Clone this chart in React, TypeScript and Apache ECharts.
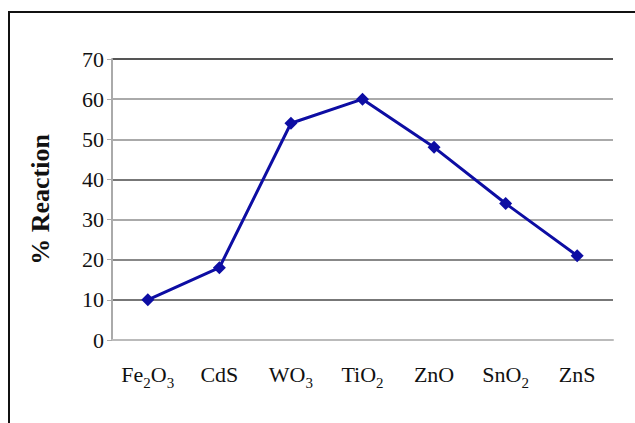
import React, { useEffect, useRef } from "react";
import * as echarts from "echarts";

const categories = ["Fe2O3", "CdS", "WO3", "TiO2", "ZnO", "SnO2", "ZnS"];
const reaction = [10, 18, 54, 60, 48, 34, 21];
const yTicks = { min: 0, max: 70, interval: 10 };
const gridColors = ["#bbbbbb", "#777777", "#888888", "#aaaaaa", "#777777", "#aaaaaa", "#aaaaaa", "#555555"];

const SERIF = "Liberation Serif";

function toRich(name: string): string {
  return name.replace(/(\D+)|(\d+)/g, (_m, a, d) => (a ? `{n|${a}}` : `{s|${d}}`));
}

export default function App() {
  const ref = useRef<HTMLDivElement>(null);
  useEffect(() => {
    document.body.style.margin = "0";
    const chart = echarts.init(ref.current!, null, { renderer: "svg" });
    chart.setOption({
      animation: false,
      backgroundColor: "#ffffff",
      textStyle: { fontFamily: SERIF },
      grid: { left: 112, right: 22, top: 59, bottom: 83, containLabel: false },
      graphic: [
        {
          type: "rect",
          shape: { x: 9, y: 12, width: 700, height: 500 },
          style: { fill: "none", stroke: "#111111", lineWidth: 2 },
          silent: true,
        },
      ],
      xAxis: {
        type: "category",
        data: categories,
        boundaryGap: true,
        axisLine: { lineStyle: { color: "#bbbbbb", width: 2 } },
        axisTick: { show: false },
        axisLabel: {
          interval: 0,
          margin: 23,
          color: "#111111",
          fontFamily: SERIF,
          fontSize: 22,
          formatter: (v: string) => toRich(v),
          rich: {
            n: { fontFamily: SERIF, fontSize: 22, color: "#111111", verticalAlign: "bottom", padding: [0, 0, 5, 0] },
            s: { fontFamily: SERIF, fontSize: 15, color: "#111111", verticalAlign: "bottom" },
          },
        },
      },
      yAxis: {
        type: "value",
        min: yTicks.min,
        max: yTicks.max,
        interval: yTicks.interval,
        name: "% Reaction",
        nameLocation: "middle",
        nameRotate: 90,
        nameGap: 59,
        nameTextStyle: { fontFamily: SERIF, fontSize: 26, fontWeight: "bold", color: "#111111" },
        axisLine: { show: true, lineStyle: { color: "#aaaaaa", width: 2 } },
        axisTick: { show: true, length: 5, lineStyle: { color: "#aaaaaa" } },
        axisLabel: { margin: 8, color: "#111111", fontFamily: SERIF, fontSize: 22 },
        splitLine: { show: true, lineStyle: { color: gridColors, width: 2 } },
      },
      series: [
        {
          type: "line",
          data: reaction,
          symbol: "diamond",
          symbolSize: 13,
          lineStyle: { color: "#0d0da3", width: 3 },
          itemStyle: { color: "#0d0da3" },
        },
      ],
    });
    return () => chart.dispose();
  }, []);
  return <div ref={ref} style={{ width: 635, height: 423 }} />;
}
